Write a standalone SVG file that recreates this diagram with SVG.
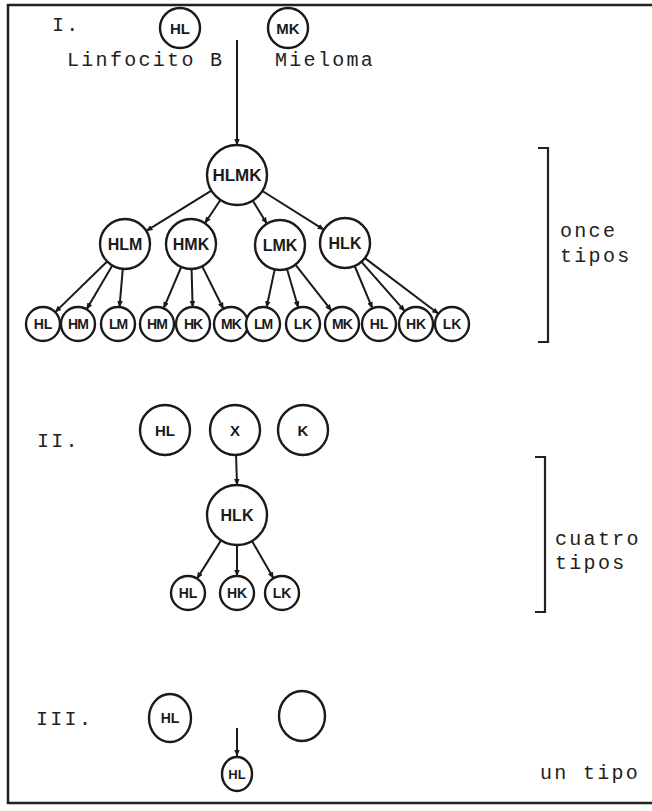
<svg xmlns="http://www.w3.org/2000/svg" width="652" height="811" viewBox="0 0 652 811">
  <style>
    .cell { fill: #fff; stroke: #1a1a1a; stroke-width: 2.4; }
    .lbl { font-family: "Liberation Sans", Arial, sans-serif; font-weight: bold; fill: #1a1a1a; text-anchor: middle; dominant-baseline: central; }
    .tw { font-family: "Liberation Mono", "Courier New", monospace; fill: #222; font-size: 20px; letter-spacing: 2.3px; }
    .edge { stroke: #1a1a1a; stroke-width: 2; fill: none; marker-end: url(#head); }
    .frame { stroke: #222; stroke-width: 2.5; fill: none; }
    .brk { stroke: #222; stroke-width: 2.2; fill: none; }
  </style>
  <defs>
    <marker id="head" viewBox="0 0 10 10" refX="9" refY="5" markerWidth="7" markerHeight="7" markerUnits="userSpaceOnUse" orient="auto">
      <path d="M0,1 L10,5 L0,9 z" fill="#1a1a1a"/>
    </marker>
  </defs>
  <rect width="652" height="811" fill="#fff"/>

  <!-- page frame -->
  <g id="frame">
    <path class="frame" d="M652,5 L8,5 L8,803 L652,803"/>
  </g>

  <!-- section labels and captions -->
  <g id="captions">
    <text class="tw" x="52" y="31">I.</text>
    <text class="tw" x="67" y="66">Linfocito B</text>
    <text class="tw" x="275" y="66">Mieloma</text>
    <text class="tw" x="560" y="237">once</text>
    <text class="tw" x="560" y="262">tipos</text>
    <text class="tw" x="37" y="447">II.</text>
    <text class="tw" x="555" y="545">cuatro</text>
    <text class="tw" x="555" y="569">tipos</text>
    <text class="tw" x="36" y="725">III.</text>
    <text class="tw" x="540" y="779">un tipo</text>
  </g>

  <!-- brackets -->
  <g id="brackets">
    <path class="brk" d="M538,148 L548,148 L548,342 L538,342"/>
    <path class="brk" d="M535,457 L545,457 L545,612 L535,612"/>
  </g>

  <!-- connectors -->
  <g id="connectors">
    <line class="edge" x1="237" y1="40" x2="237" y2="145"/>
    <line class="edge" x1="211.4" y1="190.7" x2="146.3" y2="230.9"/>
    <line class="edge" x1="220.4" y1="200" x2="204.9" y2="223.2"/>
    <line class="edge" x1="252.7" y1="200.6" x2="266.9" y2="223.7"/>
    <line class="edge" x1="262.4" y1="191" x2="323.8" y2="229.7"/>

    <line class="edge" x1="107.1" y1="261.5" x2="55.2" y2="312.1"/>
    <line class="edge" x1="112.3" y1="265.6" x2="86.6" y2="309.3"/>
    <line class="edge" x1="122.8" y1="268.9" x2="119.5" y2="307.1"/>
    <line class="edge" x1="181.2" y1="267" x2="163.6" y2="308.3"/>
    <line class="edge" x1="191.6" y1="269" x2="192.6" y2="307"/>
    <line class="edge" x1="202.2" y1="266.4" x2="223.4" y2="308.8"/>
    <line class="edge" x1="274.7" y1="269.4" x2="266.6" y2="307.4"/>
    <line class="edge" x1="287" y1="269" x2="298.3" y2="307.7"/>
    <line class="edge" x1="295.4" y1="264.7" x2="331.5" y2="310.6"/>
    <line class="edge" x1="354.7" y1="266" x2="372.4" y2="308.3"/>
    <line class="edge" x1="361.5" y1="261.8" x2="404.8" y2="311.2"/>
    <line class="edge" x1="364.9" y1="258.1" x2="438.5" y2="313.7"/>

    <line class="edge" x1="236" y1="453" x2="237" y2="485"/>
    <line class="edge" x1="221" y1="540.4" x2="197" y2="578.6"/>
    <line class="edge" x1="237" y1="545" x2="237" y2="576"/>
    <line class="edge" x1="252" y1="541" x2="273.5" y2="578.3"/>

    <line class="edge" x1="237" y1="728" x2="237" y2="756"/>
  </g>

  <!-- section I -->
  <g id="p1-HL"><circle class="cell" cx="180" cy="28" r="20"/><text class="lbl" x="180" y="28" font-size="15">HL</text></g>
  <g id="p1-MK"><circle class="cell" cx="288" cy="28" r="20"/><text class="lbl" x="288" y="28" font-size="15">MK</text></g>
  <g id="p1-HLMK"><circle class="cell" cx="237" cy="175" r="30"/><text class="lbl" x="237" y="175" font-size="17">HLMK</text></g>

  <g id="p1-HLM"><circle class="cell" cx="125" cy="244" r="25"/><text class="lbl" x="125" y="244" font-size="16">HLM</text></g>
  <g id="p1-HMK"><circle class="cell" cx="191" cy="244" r="25"/><text class="lbl" x="191" y="244" font-size="16">HMK</text></g>
  <g id="p1-LMK"><circle class="cell" cx="280" cy="245" r="25"/><text class="lbl" x="280" y="245" font-size="16">LMK</text></g>
  <g id="p1-HLK"><circle class="cell" cx="345" cy="243" r="25"/><text class="lbl" x="345" y="243" font-size="16">HLK</text></g>

  <g id="p1-b1"><circle class="cell" cx="43" cy="324" r="17"/><text class="lbl" x="43" y="324" font-size="14">HL</text></g>
  <g id="p1-b2"><circle class="cell" cx="78" cy="324" r="17"/><text class="lbl" x="78" y="324" font-size="14" letter-spacing="-1">HM</text></g>
  <g id="p1-b3"><circle class="cell" cx="118" cy="324" r="17"/><text class="lbl" x="118" y="324" font-size="14" letter-spacing="-1">LM</text></g>
  <g id="p1-b4"><circle class="cell" cx="157" cy="324" r="17"/><text class="lbl" x="157" y="324" font-size="14" letter-spacing="-1">HM</text></g>
  <g id="p1-b5"><circle class="cell" cx="193" cy="324" r="17"/><text class="lbl" x="193" y="324" font-size="14" letter-spacing="-1">HK</text></g>
  <g id="p1-b6"><circle class="cell" cx="231" cy="324" r="17"/><text class="lbl" x="231" y="324" font-size="14" letter-spacing="-1">MK</text></g>
  <g id="p1-b7"><circle class="cell" cx="263" cy="324" r="17"/><text class="lbl" x="263" y="324" font-size="14" letter-spacing="-1">LM</text></g>
  <g id="p1-b8"><circle class="cell" cx="303" cy="324" r="17"/><text class="lbl" x="303" y="324" font-size="14">LK</text></g>
  <g id="p1-b9"><circle class="cell" cx="342" cy="324" r="17"/><text class="lbl" x="342" y="324" font-size="14" letter-spacing="-1">MK</text></g>
  <g id="p1-b10"><circle class="cell" cx="379" cy="324" r="17"/><text class="lbl" x="379" y="324" font-size="14">HL</text></g>
  <g id="p1-b11"><circle class="cell" cx="416" cy="324" r="17"/><text class="lbl" x="416" y="324" font-size="14">HK</text></g>
  <g id="p1-b12"><circle class="cell" cx="452" cy="324" r="17"/><text class="lbl" x="452" y="324" font-size="14">LK</text></g>

  <!-- section II -->
  <g id="p2-HL"><circle class="cell" cx="165" cy="430" r="25"/><text class="lbl" x="165" y="430" font-size="15">HL</text></g>
  <g id="p2-X"><circle class="cell" cx="235" cy="430" r="25"/><text class="lbl" x="235" y="430" font-size="15">X</text></g>
  <g id="p2-K"><circle class="cell" cx="303" cy="430" r="25"/><text class="lbl" x="303" y="430" font-size="15">K</text></g>
  <g id="p2-HLK"><circle class="cell" cx="237" cy="515" r="30"/><text class="lbl" x="237" y="515" font-size="16">HLK</text></g>
  <g id="p2-HL2"><circle class="cell" cx="188" cy="593" r="17"/><text class="lbl" x="188" y="593" font-size="14">HL</text></g>
  <g id="p2-HK"><circle class="cell" cx="237" cy="593" r="17"/><text class="lbl" x="237" y="593" font-size="14">HK</text></g>
  <g id="p2-LK"><circle class="cell" cx="282" cy="593" r="17"/><text class="lbl" x="282" y="593" font-size="14">LK</text></g>

  <!-- section III -->
  <g id="p3-HL"><ellipse class="cell" cx="170" cy="718" rx="21" ry="24"/><text class="lbl" x="170" y="718" font-size="14">HL</text></g>
  <g id="p3-empty"><ellipse class="cell" cx="302" cy="716" rx="23" ry="25"/></g>
  <g id="p3-HL2"><ellipse class="cell" cx="237" cy="774" rx="15" ry="17"/><text class="lbl" x="237" y="774" font-size="13">HL</text></g>
</svg>
